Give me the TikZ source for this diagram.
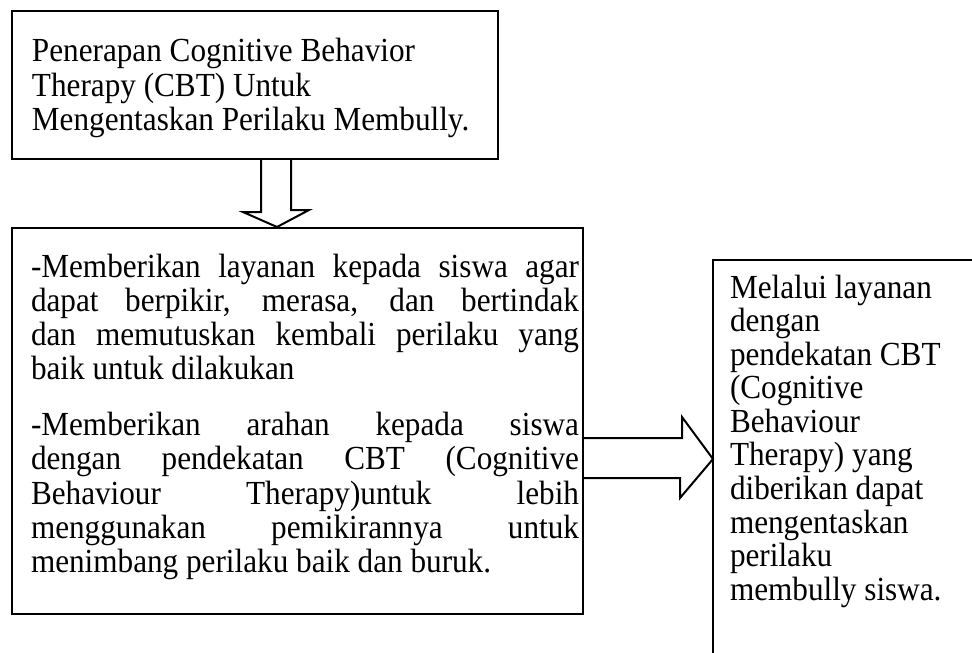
\documentclass[tikz,border=0pt]{standalone}
\usepackage{fontspec}
\setmainfont{Liberation Serif}
\usetikzlibrary{calc}
\newcommand\baris[1]{\makebox[\linewidth][s]{#1}\\}
\newcommand\tinggi[2]{\scalebox{1}[1.08]{\parbox[t]{#1}{\lineskiplimit=-\maxdimen #2}}}
\begin{document}
\begin{tikzpicture}[x=0.5pt, y=-0.5pt, line width=1pt,
    kotak/.style={draw, anchor=north west, inner sep=0pt},
    teks/.style={anchor=base west, inner sep=0pt,
        font=\fontsize{15.6}{15.83}\selectfont}]

    % batas gambar
    \clip (0,0) rectangle (972,652);

    % kotak-kotak
    \node[kotak, minimum width=243pt, minimum height=73.75pt] (judul) at (11,10.5) {};
    \node[kotak, minimum width=285.5pt, minimum height=193pt] (isi) at (11,227) {};
    \node[kotak, minimum width=200pt, minimum height=250pt] (kanan) at (712,259) {};

    % teks judul
    \node[teks] (tjudul) at (31,62) {\tinggi{235pt}{Penerapan Cognitive Behavior\\
        Therapy (CBT) Untuk\\
        Mengentaskan Perilaku Membully.}};

    % teks isi
    \node[teks] (tisi) at (30,277) {\tinggi{274pt}{%
        \baris{-Memberikan layanan kepada siswa agar}
        \baris{dapat berpikir, merasa, dan bertindak}
        \baris{dan memutuskan kembali perilaku yang}
        baik untuk dilakukan\\[10.2pt]
        \baris{-Memberikan arahan kepada siswa}
        \baris{dengan pendekatan CBT (Cognitive}
        \baris{Behaviour Therapy)untuk lebih}
        \baris{menggunakan pemikirannya untuk}
        menimbang perilaku baik dan buruk.}};

    % teks kanan
    \node[teks, font=\fontsize{15.6}{15.55}\selectfont] (tkanan) at (729,298) {\tinggi{125pt}{Melalui layanan\\
        dengan\\
        pendekatan CBT\\
        (Cognitive\\
        Behaviour\\
        Therapy) yang\\
        diberikan dapat\\
        mengentaskan\\
        perilaku\\
        membully siswa.}};

    % panah ke bawah
    \draw ($(judul.south west)+(250,0)$) -- ++(0,52) -- ++(-18,0)
        -- ($(isi.north west)+(266,0)$) -- ++(32,-17) -- ++(-18,0)
        -- ($(judul.south west)+(280,0)$);

    % panah ke kanan
    \draw ($(isi.north east)+(0,211)$) -- ++(98,0) -- ++(0,-21)
        -- ($(kanan.north west)+(1,200)$) -- ++(-33,39) -- ++(0,-20)
        -- ($(isi.north east)+(0,251)$);

\end{tikzpicture}
\end{document}
